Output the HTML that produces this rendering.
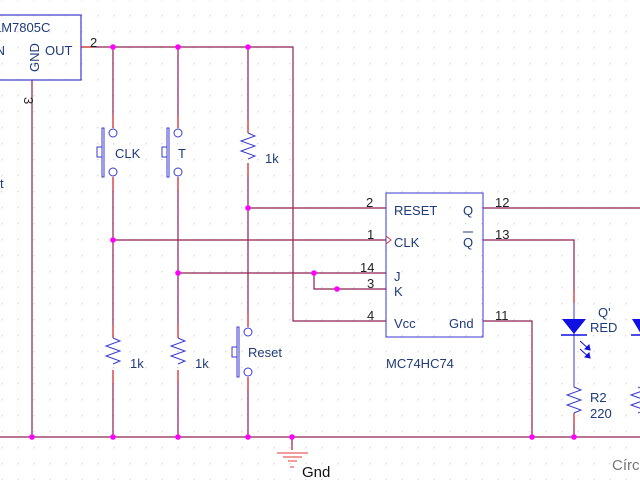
<!DOCTYPE html>
<html><head><meta charset="utf-8"><style>
html,body{margin:0;padding:0;background:#fff;}
svg{display:block;}
text{font-family:"Liberation Sans",sans-serif;}
</style></head><body>
<svg width="640" height="480" viewBox="0 0 640 480" xmlns="http://www.w3.org/2000/svg">
<defs>
<pattern id="g" width="16" height="16" patternUnits="userSpaceOnUse" x="1" y="-1">
<rect x="0" y="0" width="1.4" height="1.4" fill="#d8d8d8"/>
</pattern>
</defs>
<rect width="640" height="480" fill="url(#g)"/>
<g fill="none" stroke="#8e2050" stroke-width="1.2">
<path d="M81 47 H293 V321 H386"/>
<path d="M32 80 V437"/>
<path d="M0 437 H640"/>
<path d="M113 47 V128 M113 177 V338 M113 370 V437"/>
<path d="M178 47 V128 M178 177 V338 M178 370 V437"/>
<path d="M248 47 V133 M248 163 V327 M248 377 V437"/>
<path d="M248 208 H386 M113 240 H386 M178 273 H386 M314 273 V289 H386"/>
<path d="M483 208 H640 M483 240 H574 V303 M483 321 H532 V437 M574 413 V437"/>
<path d="M292 437 V450"/>
</g>
<g stroke="#e03a3a" stroke-width="1.2">
<path d="M81 47 H92 M113 115 V128 M113 177 V190 M178 115 V128 M178 177 V190 M248 120 V133 M248 163 V176"/>
<path d="M113 325 V338 M113 370 V383 M178 325 V338 M178 370 V383 M248 314 V327 M248 377 V390"/>
<path d="M574 290 V303 M574 413 V425"/>
</g>
<rect x="-10" y="15" width="91" height="65" fill="none" stroke="#3a3ad0" stroke-width="1.2"/>
<g fill="#1f3a7a" font-size="13">
<text x="-6" y="32">LM7805C</text>
<text x="-8" y="55">IN</text>
<text x="45" y="55">OUT</text>
<text x="39" y="72" transform="rotate(-90 39 72)">GND</text>
</g>
<g fill="#222" font-size="13">
<text x="90" y="47">2</text>
<text x="24" y="97" transform="rotate(90 24 97)">3</text>
</g>
<text x="0" y="188" font-size="13" fill="#1f3a7a">t</text>
<g fill="none" stroke="#3a3ad0" stroke-width="1">
<circle cx="113" cy="133" r="4"/><circle cx="113" cy="172" r="4"/>
<rect x="102" y="128" width="2" height="49"/>
<path d="M102 147 H97 V157 H102"/>
<circle cx="178" cy="133" r="4"/><circle cx="178" cy="172" r="4"/>
<rect x="167" y="128" width="2" height="49"/>
<path d="M167 147 H162 V157 H167"/>
<circle cx="248" cy="332" r="4"/><circle cx="248" cy="372" r="4"/>
<rect x="237" y="327" width="2" height="50"/>
<path d="M237 347 H232 V357 H237"/>
<path d="M248 133 l7 3 l-14 5 l14 5 l-14 5 l14 5 l-7 3"/>
<path d="M113 338 l7 3 l-14 5 l14 5 l-14 5 l14 5 l-7 3"/>
<path d="M178 338 l7 3 l-14 5 l14 5 l-14 5 l14 5 l-7 3"/>
<path d="M574 387 l7 3 l-14 5 l14 5 l-14 5 l14 5 l-7 3"/>
<path d="M638 387 l7 3 l-14 5 l14 5 l-14 5 l14 5 l-7 3"/>
<rect x="386" y="193" width="97" height="144"/>
<path d="M386 236 l5 4 l-5 4" stroke="#e03a3a"/>
<path d="M574 303 V387"/>
</g>
<g fill="#1f3a7a" font-size="13">
<text x="115" y="158">CLK</text>
<text x="178" y="158">T</text>
<text x="265" y="163">1k</text>
<text x="130" y="368">1k</text>
<text x="195" y="368">1k</text>
<text x="248" y="357">Reset</text>
<text x="394" y="215">RESET</text>
<text x="463" y="215">Q</text>
<text x="394" y="247">CLK</text>
<text x="463" y="247">Q</text>
<text x="394" y="281">J</text>
<text x="394" y="296">K</text>
<text x="394" y="328">Vcc</text>
<text x="449" y="328">Gnd</text>
<text x="386" y="368">MC74HC74</text>
<text x="598" y="317">Q'</text>
<text x="590" y="332">RED</text>
<text x="590" y="402">R2</text>
<text x="590" y="418">220</text>
</g>
<line x1="463" y1="232" x2="473" y2="232" stroke="#1f3a7a" stroke-width="1"/>
<g fill="#222" font-size="13">
<text x="366" y="207">2</text>
<text x="367" y="239">1</text>
<text x="360" y="272">14</text>
<text x="367" y="288">3</text>
<text x="367" y="320">4</text>
<text x="495" y="207">12</text>
<text x="495" y="239">13</text>
<text x="495" y="320">11</text>
</g>
<polygon points="562,319 586,319 574,334" fill="#1010e0"/>
<line x1="561" y1="335" x2="587" y2="335" stroke="#1010e0" stroke-width="1.5"/>
<polygon points="632,319 650,319 641,334" fill="#1010e0"/>
<line x1="631" y1="335" x2="650" y2="335" stroke="#1010e0" stroke-width="1.5"/>
<g stroke="#1010e0" stroke-width="1" fill="#1010e0">
<path d="M580 341 L590 350"/><polygon points="590,350 585,349 589,345"/>
<path d="M580 349 L590 358"/><polygon points="590,358 585,357 589,353"/>
</g>
<g stroke="#e03a3a" stroke-width="1">
<line x1="277" y1="453" x2="308" y2="453"/>
<line x1="283" y1="457" x2="302" y2="457"/>
<line x1="288" y1="461" x2="297" y2="461"/>
<line x1="290" y1="467" x2="294" y2="467"/>
</g>
<text x="302" y="477" font-size="15" fill="#111">Gnd</text>
<text x="612" y="470" font-size="15" fill="#777">Círc</text>
<g fill="#ff00ff">
<circle cx="113" cy="47" r="2.8"/><circle cx="178" cy="47" r="2.8"/><circle cx="248" cy="47" r="2.8"/>
<circle cx="248" cy="208" r="2.8"/><circle cx="113" cy="240" r="2.8"/>
<circle cx="178" cy="273" r="2.8"/><circle cx="314" cy="273" r="2.8"/><circle cx="337" cy="289" r="2.8"/>
<circle cx="32" cy="437" r="2.8"/><circle cx="113" cy="437" r="2.8"/><circle cx="178" cy="437" r="2.8"/>
<circle cx="248" cy="437" r="2.8"/><circle cx="292" cy="437" r="2.8"/><circle cx="532" cy="437" r="2.8"/>
<circle cx="574" cy="437" r="2.8"/>
</g>
</svg>
</body></html>
